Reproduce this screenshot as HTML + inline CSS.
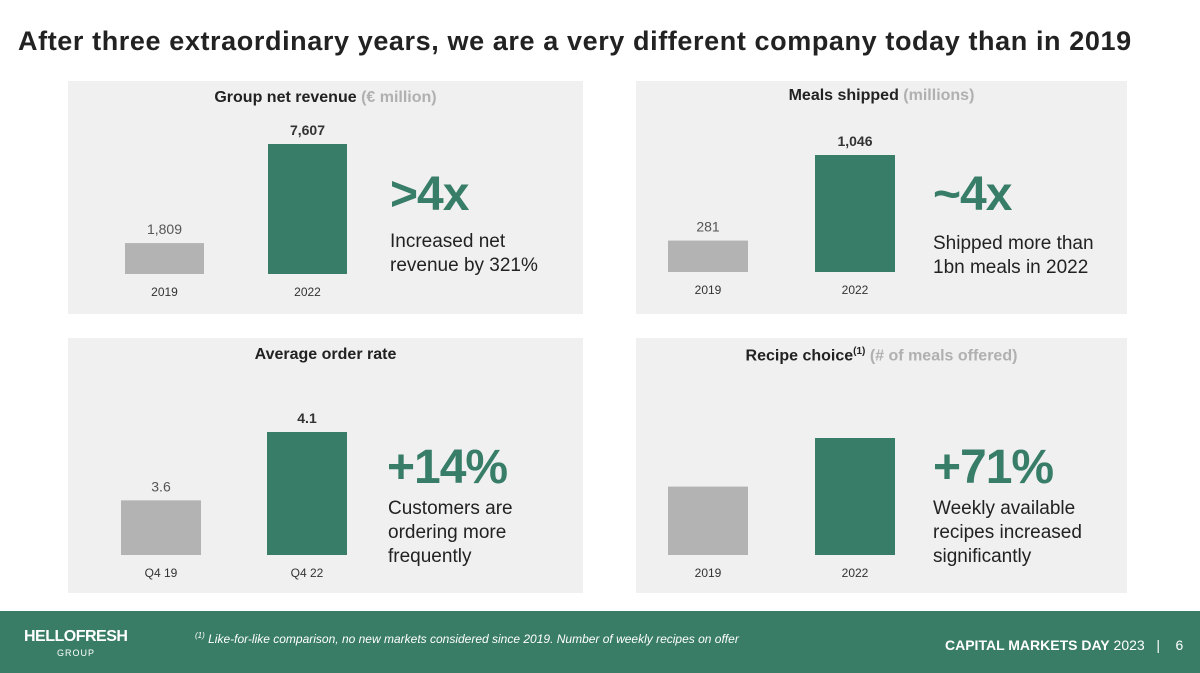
<!DOCTYPE html>
<html><head><meta charset="utf-8">
<style>
body{margin:0;width:1200px;height:673px;background:#fff;font-family:"Liberation Sans",sans-serif;position:relative;overflow:hidden}
.t{position:absolute;white-space:nowrap}
.panel{position:absolute;background:#f0f0f0}
.ptitle{position:absolute;left:0;right:0;text-align:center;font-weight:bold;font-size:16px;color:#222;top:8px}
.ptitle span{color:#b0b0b0}
.big{position:absolute;font-size:48px;font-weight:bold;color:#377d68;letter-spacing:-1px}
.sub{position:absolute;font-size:19px;color:#222;line-height:24px}
</style></head><body>
<div class="t" style="left:18px;top:26px;font-size:27px;font-weight:bold;color:#222;letter-spacing:0.6px">After three extraordinary years, we are a very different company today than in 2019</div>

<div class="panel" style="left:68px;top:81px;width:515px;height:233px">
 <div class="ptitle">Group net revenue <span>(€ million)</span></div>
 <svg id="c1" width="515" height="233" style="position:absolute;left:0;top:0"></svg>
 <div class="big" style="left:322px;top:86px">&gt;4x</div>
 <div class="sub" style="left:322px;top:149px">Increased net<br>revenue by 321%</div>
</div>

<div class="panel" style="left:636px;top:81px;width:491px;height:233px">
 <div class="ptitle" style="top:6px">Meals shipped <span>(millions)</span></div>
 <svg id="c2" width="491" height="233" style="position:absolute;left:0;top:0"></svg>
 <div class="big" style="left:297px;top:86px">~4x</div>
 <div class="sub" style="left:297px;top:151px">Shipped more than<br>1bn meals in 2022</div>
</div>

<div class="panel" style="left:68px;top:338px;width:515px;height:255px">
 <div class="ptitle">Average order rate</div>
 <svg id="c3" width="515" height="255" style="position:absolute;left:0;top:0"></svg>
 <div class="big" style="left:319px;top:102px">+14%</div>
 <div class="sub" style="left:320px;top:159px">Customers are<br>ordering more<br>frequently</div>
</div>

<div class="panel" style="left:636px;top:338px;width:491px;height:255px">
 <div class="ptitle">Recipe choice<sup style="font-size:10px">(1)</sup> <span>(# of meals offered)</span></div>
 <svg id="c4" width="491" height="255" style="position:absolute;left:0;top:0"></svg>
 <div class="big" style="left:297px;top:102px">+71%</div>
 <div class="sub" style="left:297px;top:159px">Weekly available<br>recipes increased<br>significantly</div>
</div>

<div style="position:absolute;left:0;top:611px;width:1200px;height:62px;background:#397d67">
 <div class="t" style="left:24px;top:17px;color:#fff;font-weight:bold;font-size:16px;letter-spacing:-0.5px">HELLOFRESH</div>
 <div class="t" style="left:57px;top:37px;color:#fff;font-size:9px;letter-spacing:1px">GROUP</div>
 <div class="t" style="left:195px;top:20px;color:#fff;font-style:italic;font-size:12px"><sup style="font-size:8px">(1)</sup> Like-for-like comparison, no new markets considered since 2019. Number of weekly recipes on offer</div>
 <div class="t" style="left:945px;top:26px;color:#fff;font-size:14px"><b>CAPITAL MARKETS DAY</b> 2023 &nbsp;&nbsp;|&nbsp;&nbsp;&nbsp; 6</div>
</div>

<script>
const cats1=["2019","2022"], vals1=[1809,7607], labs1=["1,809","7,607"];
const cats2=["2019","2022"], vals2=[281,1046], labs2=["281","1,046"];
const cats3=["Q4 19","Q4 22"], vals3=[3.6,4.1], labs3=["3.6","4.1"];
const cats4=["2019","2022"], vals4=[100,171], labs4=["",""];
const NS="http://www.w3.org/2000/svg";
function chart(id,cats,vals,labs,cfg){
 const svg=document.getElementById(id);
 const y=v=>cfg.base-(v-cfg.min)/(cfg.max-cfg.min)*cfg.h;
 cats.forEach((c,i)=>{
  const x=cfg.x0+i*cfg.step;
  const r=document.createElementNS(NS,"rect");
  
  
  r.setAttribute("x",x);r.setAttribute("width",cfg.w);
  r.setAttribute("y",y(vals[i]));r.setAttribute("height",cfg.base-y(vals[i]));
  r.setAttribute("fill",i==0?"#b3b3b3":"#377d68");svg.appendChild(r);
  const l=document.createElementNS(NS,"text");
  
  
  l.setAttribute("x",x+cfg.w/2);l.setAttribute("y",cfg.base+22);l.setAttribute("text-anchor","middle");
  l.setAttribute("font-size","12");l.setAttribute("fill","#333");l.textContent=c;svg.appendChild(l);
  if(labs[i]){const t=document.createElementNS(NS,"text");
  
  
  t.setAttribute("x",x+cfg.w/2);t.setAttribute("y",y(vals[i])-9);t.setAttribute("text-anchor","middle");
  t.setAttribute("font-size","14");t.setAttribute("fill",i==0?"#555":"#333");if(i==1)t.setAttribute("font-weight","bold");
  t.textContent=labs[i];svg.appendChild(t);}
 });
}
chart("c1",cats1,vals1,labs1,{x0:57,step:143,w:79,base:193,min:0,max:7607,h:130});
chart("c2",cats2,vals2,labs2,{x0:32,step:147,w:80,base:191,min:0,max:1046,h:117});
chart("c3",cats3,vals3,labs3,{x0:53,step:146,w:80,base:217,min:3.2,max:4.1,h:123});
chart("c4",cats4,vals4,labs4,{x0:32,step:147,w:80,base:217,min:0,max:171,h:117});
</script>
</body></html>
